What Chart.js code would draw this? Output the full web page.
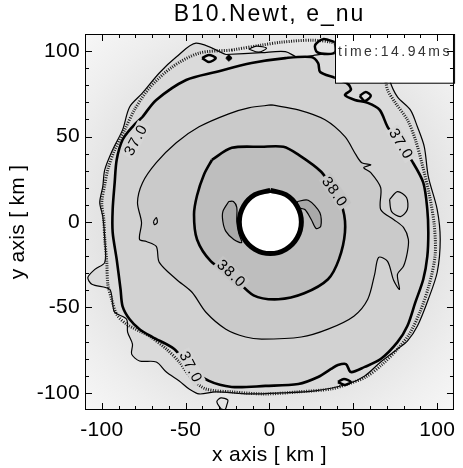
<!DOCTYPE html>
<html>
<head>
<meta charset="utf-8">
<script src="https://cdn.jsdelivr.net/npm/chart.js@4.4.0/dist/chart.umd.min.js"></script>
<style>
  html, body { margin: 0; padding: 0; background: #fff; }
</style>
</head>
<body>
<canvas id="contour_chart" width="463" height="468"></canvas>
<script>
const outer_level = [
  [-26.0, 98.0], [-4.7, 99.1], [9.5, 99.7], [17.2, 96.2], [26.0, 97.4], [34.9, 98.5],
  [43.8, 98.5], [67.5, 100.6], [71.6, 83.1], [76.3, 73.2], [84.0, 65.6], [88.2, 55.7],
  [92.3, 44.0], [94.7, 26.5], [100.0, 7.3], [101.8, -10.2], [100.0, -29.4], [94.7, -45.2],
  [88.2, -60.9], [82.2, -69.7], [76.3, -74.3], [66.3, -81.9], [56.8, -90.1], [46.7, -94.8],
  [27.2, -98.8], [7.1, -100.0], [-12.4, -100.6], [-32.0, -99.4], [-42.0, -100.6], [-47.9, -97.7],
  [-53.8, -93.0], [-61.5, -87.8], [-67.5, -81.9], [-77.5, -81.3], [-82.2, -77.3], [-81.7, -71.4],
  [-84.6, -64.4], [-85.2, -56.9], [-92.3, -52.8], [-93.5, -48.1], [-95.3, -39.4], [-105.9, -36.4],
  [-108.3, -32.4], [-104.1, -27.7], [-98.2, -23.6], [-98.2, -10.2], [-99.4, 3.2], [-101.2, 11.4],
  [-99.4, 20.7], [-98.2, 30.6], [-93.5, 42.3], [-87.6, 53.9], [-83.4, 67.3], [-75.7, 75.5],
  [-65.7, 87.2], [-55.6, 96.5], [-43.8, 104.7],
];
const hatched_level = [
  [-22.5, 100.6], [-4.7, 103.5], [7.1, 105.2], [24.9, 106.4], [36.7, 105.2], [52.7, 100.6],
  [67.5, 88.9], [70.4, 77.3], [75.1, 69.7], [82.2, 59.8], [87.0, 48.1], [91.1, 33.5],
  [95.3, 16.0], [98.2, -1.5], [98.8, -19.0], [95.3, -36.4], [89.9, -52.2], [83.4, -65.6],
  [76.3, -74.3], [67.5, -83.1], [57.4, -90.7], [46.7, -94.8], [36.7, -97.7], [17.2, -99.4],
  [-2.4, -100.6], [-22.5, -99.4], [-37.9, -97.7], [-46.2, -91.8], [-53.8, -81.9], [-61.5, -74.3],
  [-71.6, -66.8], [-85.2, -59.8], [-91.1, -54.0], [-94.1, -45.2], [-96.4, -36.4], [-97.0, -23.6],
  [-98.2, -10.2], [-98.8, 1.5], [-100.0, 11.4], [-98.2, 21.9], [-96.4, 30.6], [-92.3, 42.3],
  [-86.4, 53.9], [-80.5, 65.6], [-71.6, 78.4], [-58.0, 90.7], [-42.0, 98.8],
];
const level_370 = [
  [-75.7, 61.5], [-67.5, 71.4], [-49.7, 83.1], [-32.0, 87.8], [-10.7, 93.0], [9.5, 95.9],
  [24.9, 96.5], [29.0, 93.0], [30.2, 87.8], [39.1, 84.3], [46.7, 80.8], [48.5, 77.3],
  [45.0, 74.3], [50.9, 71.4], [58.6, 69.7], [65.7, 65.6], [70.4, 55.7], [78.1, 45.2],
  [85.2, 35.3], [91.7, 23.0], [94.1, 7.3], [94.7, -6.1], [94.1, -20.1], [91.7, -33.5],
  [87.0, -46.9], [82.2, -60.9], [76.3, -70.3], [66.3, -80.2], [56.8, -84.8], [48.5, -87.8],
  [45.6, -83.1], [40.8, -83.7], [36.7, -86.0], [29.0, -90.7], [17.2, -94.8], [-2.4, -95.9],
  [-22.5, -96.5], [-36.1, -93.0], [-47.9, -84.8], [-56.8, -74.3], [-69.8, -67.3], [-77.5, -62.7],
  [-83.4, -56.9], [-87.6, -49.3], [-88.8, -39.4], [-91.1, -21.9], [-93.5, -6.1], [-93.5, 7.3],
  [-92.3, 23.0], [-91.1, 36.4], [-87.6, 48.1], [-81.7, 55.7],
];
const level_375 = [
  [1.2, 68.5], [17.2, 65.6], [33.1, 59.8], [45.0, 49.9], [51.5, 39.4], [55.0, 34.7],
  [60.4, 33.5], [56.2, 31.8], [60.4, 28.9], [66.3, 20.1], [66.3, 7.3], [74.0, 1.5],
  [79.9, -3.2], [82.8, -10.2], [82.2, -17.8], [79.9, -25.9], [76.3, -30.6], [77.5, -39.4],
  [74.0, -34.1], [70.4, -23.0], [65.1, -20.7], [62.7, -30.6], [58.6, -45.2], [50.3, -55.1],
  [34.9, -62.7], [18.9, -67.3], [-4.7, -68.5], [-14.2, -67.3], [-26.0, -62.7], [-37.9, -52.8],
  [-46.2, -41.1], [-55.6, -33.5], [-65.7, -23.6], [-67.5, -14.3], [-73.4, -11.4], [-77.5, -10.2],
  [-76.3, -0.3], [-78.7, 11.4], [-75.7, 23.0], [-67.5, 34.7], [-55.6, 46.4], [-42.0, 55.7],
  [-24.3, 63.3], [-12.4, 66.8],
];
const level_380 = [
  [-34.3, 36.4], [-22.5, 43.4], [-4.7, 44.0], [8.3, 44.0], [17.2, 39.4], [30.8, 29.4],
  [37.9, 19.0], [43.8, 7.3], [45.0, -6.1], [41.4, -21.9], [34.9, -33.5], [20.7, -41.7],
  [5.3, -45.2], [-9.5, -42.9], [-22.5, -31.2], [-34.9, -23.0], [-43.2, -10.2], [-45.0, 4.4],
  [-43.2, 15.5], [-39.1, 27.7],
];
const lobe_left = [
  [-24.3, 12.0], [-27.8, 6.1], [-27.8, 0.3], [-26.0, -5.5], [-21.3, -10.2], [-16.6, -12.0],
  [-18.3, -6.7], [-19.5, 0.3], [-19.5, 8.5], [-21.5, 12.0],
];
const lobe_right = [
  [16.6, 12.0], [23.1, 12.7], [30.0, 5.5], [30.6, -2.4], [27.8, -3.8], [24.9, 1.5],
  [21.1, 7.3], [17.2, 8.5],
];
const core_edge = [
  [0.5, 18.5], [9.75, 16.0], [16.5, 9.25], [19.0, 0.0], [16.5, -9.25], [9.75, -16.0],
  [0.5, -18.5], [-8.75, -16.0], [-15.5, -9.25], [-18.0, 0.0], [-15.5, 9.25], [-8.75, 16.0],
];
// small closed contours
const isle_top_thin = [[-12.4, 101.2], [-7.7, 102.9], [-1.8, 101.7], [-6.5, 99.4]];
const isle_top_thick = [[-40.2, 95.9], [-36.1, 97.7], [-32.0, 95.9], [-36.1, 93.6]];
const isle_top_dot = [[-26.0, 95.9], [-24.3, 97.7], [-22.5, 95.9], [-24.3, 94.2]];
const isle_corner = [[39.1, 105.2], [32.0, 107.0], [27.2, 103.5], [28.4, 99.4], [34.9, 98.3], [39.1, 99.4]];
const isle_upper_right = [[53.8, 73.8], [57.4, 76.1], [60.4, 73.8], [56.8, 70.8]];
const isle_right = [[71.6, 13.1], [76.3, 17.8], [81.7, 14.3], [82.2, 7.3], [78.1, 3.2], [72.8, 6.1]];
const isle_left = [[-69.2, 0.3], [-67.5, 2.6], [-66.9, -0.3], [-68.6, -1.5]];
const isle_bottom = [[-29.0, -109.3], [-31.4, -105.2], [-29.0, -102.9], [-24.9, -104.1], [-25.4, -106.9], [-26.6, -110.0]];
const isle_lower_right = [[40.8, -93.6], [44.4, -91.8], [48.5, -93.6], [45.0, -95.3]];

const contour_label_text = ["37.0", "37.0", "37.0", "38.0", "38.0"];
const contour_label_x = [-79.9, 78.7, -46.7, 39.1, -22.5];
const contour_label_y = [48.1, 45.8, -84.8, 17.8, -30.0];

const major_ticks = [-100, -50, 0, 50, 100];
const minor_ticks = [-90, -80, -70, -60, -40, -30, -20, -10, 10, 20, 30, 40, 60, 70, 80, 90];

const time_label = "time:14.94ms";
const time_box_x = [39, 110];
const time_box_y = [110, 81.5];

const label_angle = [-62, 59, 63, 55, 43];
const label_bg = ["#d6d6d6", "#d6d6d6", "#d6d6d6", "#c4c4c4", "#c4c4c4"];

function loop(pts) {
  const d = pts.map((p) => ({ x: p[0], y: p[1] }));
  d.push({ x: pts[0][0], y: pts[0][1] });
  return d;
}

function contour(pts, fill, width, order, extra) {
  return Object.assign(
    {
      data: loop(pts),
      borderColor: "#000",
      borderWidth: width,
      backgroundColor: fill || "rgba(0,0,0,0)",
      fill: fill ? "shape" : false,
      pointRadius: 0,
      tension: 0.3,
      order: order,
    },
    extra || {}
  );
}

const contour_datasets = [
  contour(outer_level, "#dadada", 1.2, 20),
  contour(hatched_level, null, 3, 19, { borderColor: "#1a1a1a", borderDash: [1, 1.4] }),
  contour(isle_top_thin, "#e2e2e2", 1.2, 18),
  contour(isle_top_thick, "#e8e8e8", 2.5, 18),
  contour(isle_top_dot, "#000", 1, 18),
  contour(isle_corner, null, 2.5, 18),
  contour(isle_bottom, "#e6e6e6", 1.2, 18),
  contour(level_370, "#d2d2d2", 2.6, 15),
  contour(isle_upper_right, "#e0e0e0", 2.5, 14),
  contour(isle_lower_right, "#e0e0e0", 2.5, 14),
  contour(level_375, "#cacaca", 1.2, 12),
  contour(isle_right, "#d2d2d2", 1.2, 11),
  contour(isle_left, "#d2d2d2", 1.2, 11),
  contour(level_380, "#bebebe", 2.6, 10),
  contour(lobe_left, "#a9a9a9", 1.2, 8),
  contour(lobe_right, "#a9a9a9", 1.2, 8),
  contour(core_edge, "#ffffff", 5, 5, { tension: 0.4 }),
];

const frame_plugin = {
  id: "frame_plugin",
  beforeDraw(chart) {
    const { ctx, chartArea: a, scales } = chart;
    ctx.letterSpacing = "0.3px";
    ctx.save();
    ctx.fillStyle = "#fff";
    ctx.fillRect(0, 0, chart.width, chart.height);
    const cx = scales.x.getPixelForValue(0);
    const cy = scales.y.getPixelForValue(0);
    const g = ctx.createRadialGradient(cx, cy, 0, cx, cy, 270);
    g.addColorStop(0, "#d8d8d8");
    g.addColorStop(0.62, "#e3e3e3");
    g.addColorStop(0.8, "#eeeeee");
    g.addColorStop(1, "#f8f8f8");
    ctx.fillStyle = g;
    ctx.fillRect(a.left, a.top, a.right - a.left, a.bottom - a.top);
    ctx.restore();
  },
  afterDatasetsDraw(chart) {
    const { ctx, scales } = chart;
    // contour level labels
    contour_label_text.forEach((t, i) => {
      const px = scales.x.getPixelForValue(contour_label_x[i]);
      const py = scales.y.getPixelForValue(contour_label_y[i]);
      ctx.save();
      ctx.translate(px, py);
      ctx.rotate((label_angle[i] * Math.PI) / 180);
      ctx.font = '15px "Liberation Sans"';
      ctx.letterSpacing = "1px";
      const w = ctx.measureText(t).width;
      ctx.fillStyle = label_bg[i];
      ctx.fillRect(-w / 2 - 2, -7, w + 4, 14);
      ctx.fillStyle = "#000";
      ctx.textAlign = "center";
      ctx.textBaseline = "middle";
      ctx.fillText(t, 0, 1);
      ctx.restore();
    });
    // time stamp box
    const bx0 = scales.x.getPixelForValue(time_box_x[0]);
    const bx1 = scales.x.getPixelForValue(time_box_x[1]);
    const by0 = scales.y.getPixelForValue(time_box_y[0]);
    const by1 = scales.y.getPixelForValue(time_box_y[1]);
    ctx.save();
    ctx.fillStyle = "#fff";
    ctx.fillRect(bx0, by0, bx1 - bx0, by1 - by0);
    ctx.strokeStyle = "#000";
    ctx.lineWidth = 1;
    ctx.strokeRect(Math.round(bx0) + 0.5, Math.round(by0) + 0.5, bx1 - bx0, by1 - by0);
    ctx.font = '14px "Liberation Sans"';
    ctx.letterSpacing = "2.5px";
    ctx.fillStyle = "#333";
    ctx.textAlign = "left";
    ctx.textBaseline = "middle";
    ctx.fillText(time_label, bx0 + 3, by0 + 18);
    ctx.restore();
  },
  afterDraw(chart) {
    const { ctx, chartArea: a, scales } = chart;
    ctx.save();
    ctx.strokeStyle = "#000";
    ctx.lineWidth = 1;
    ctx.strokeRect(a.left + 0.5, a.top + 0.5, a.right - a.left - 1, a.bottom - a.top - 1);
    const tick = (v, len) => {
      const px = Math.round(scales.x.getPixelForValue(v)) + 0.5;
      const py = Math.round(scales.y.getPixelForValue(v)) + 0.5;
      ctx.beginPath();
      ctx.moveTo(px, a.bottom);
      ctx.lineTo(px, a.bottom - len);
      ctx.moveTo(px, a.top);
      ctx.lineTo(px, a.top + len);
      ctx.moveTo(a.left, py);
      ctx.lineTo(a.left + len, py);
      ctx.moveTo(a.right, py);
      ctx.lineTo(a.right - len, py);
      ctx.stroke();
    };
    major_ticks.forEach((v) => tick(v, 7));
    minor_ticks.forEach((v) => tick(v, 4));
    // title over the plot area
    ctx.font = '23px "Liberation Sans"';
    ctx.letterSpacing = "2px";
    ctx.fillStyle = "#000";
    ctx.textAlign = "center";
    ctx.textBaseline = "middle";
    ctx.fillText("B10.Newt, e_nu", (a.left + a.right) / 2, 15);
    ctx.restore();
  },
};

const axis_font = { family: "Liberation Sans", size: 21 };

const contour_chart = new Chart(document.getElementById("contour_chart"), {
  type: "line",
  data: { datasets: contour_datasets },
  options: {
    responsive: false,
    animation: false,
    events: [],
    layout: { padding: { left: 0, right: 6, top: 34, bottom: 0 } },
    plugins: { legend: { display: false }, tooltip: { enabled: false } },
    scales: {
      x: {
        type: "linear",
        min: -110,
        max: 110,
        grid: { display: false, drawTicks: false },
        border: { display: false },
        afterBuildTicks: (axis) => {
          axis.ticks = major_ticks.map((v) => ({ value: v }));
        },
        afterFit: (axis) => {
          axis.height = 58;
        },
        ticks: { font: axis_font, color: "#000", padding: 8, maxRotation: 0, autoSkip: false },
        title: { display: true, text: "x axis [ km ]", font: axis_font, color: "#000", padding: { top: 8, bottom: 0 } },
      },
      y: {
        type: "linear",
        min: -110,
        max: 110,
        grid: { display: false, drawTicks: false },
        border: { display: false },
        afterBuildTicks: (axis) => {
          axis.ticks = major_ticks.map((v) => ({ value: v }));
        },
        afterFit: (axis) => {
          axis.width = 85;
        },
        ticks: { font: axis_font, color: "#000", padding: 5, autoSkip: false },
        title: { display: true, text: "y axis [ km ]", font: axis_font, color: "#000", padding: { top: 6, bottom: 0 } },
      },
    },
  },
  plugins: [frame_plugin],
});
</script>
</body>
</html>
